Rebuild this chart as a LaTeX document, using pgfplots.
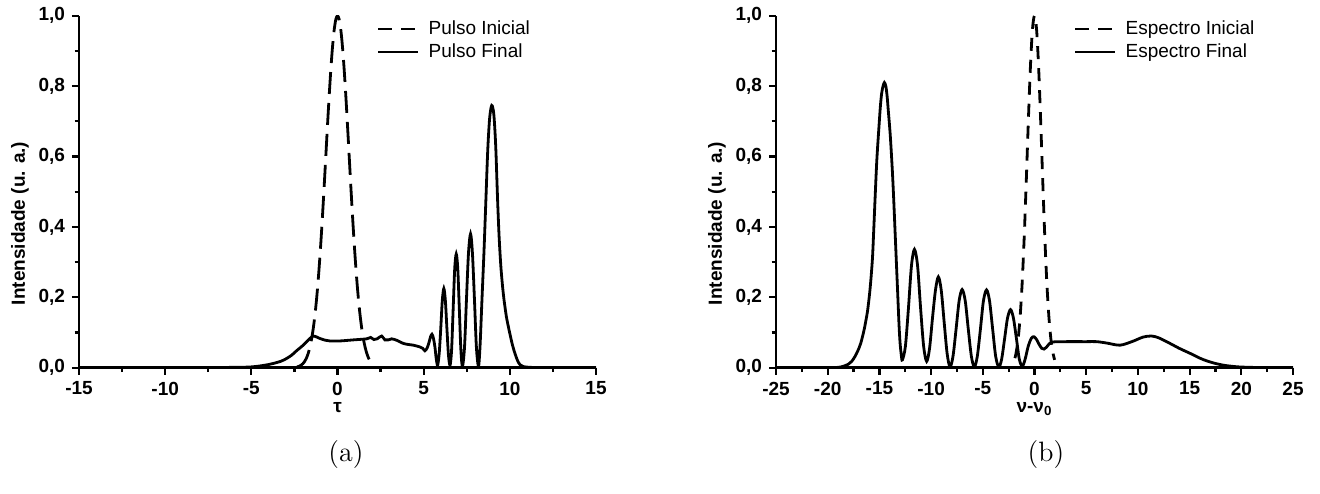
\documentclass[border=0pt]{standalone}
\usepackage{fontspec}
\usepackage{pgfplots}
\pgfplotsset{compat=1.18}
\newfontfamily\arial{Liberation Sans}
\newcommand\tickfont{\arial\bfseries\fontsize{9.5}{11}\selectfont}
\newcommand\legfont{\arial\fontsize{9.5}{11}\selectfont}
\pgfplotsset{
  myaxis/.style={
    scale only axis, width=258.5pt, height=176pt,
    axis x line=bottom, axis y line=left,
    axis line style={-, line width=1.4pt},
    ymin=0, ymax=1,
    ytick={0,0.2,0.4,0.6,0.8,1},
    yticklabels={{0,0},{0,2},{0,4},{0,6},{0,8},{1,0}},
    minor y tick num=1, minor x tick num=1,
    tick align=outside,
    major tick length=3.5pt, minor tick length=2.2pt,
    tick style={black, line width=1.1pt},
    tick label style={font=\tickfont},
    label style={font=\tickfont},
    ylabel={Intensidade (u. a.)},
    ylabel style={at={(axis description cs:-0.114,0.41)}, rotate=0, anchor=center},
    xlabel style={at={(axis description cs:0.5,0)}, anchor=north, yshift=-17pt, inner sep=0pt},
    legend style={draw=none, fill=none, at={(0.576,0.995)}, anchor=north west,
      inner sep=0pt, outer sep=0pt, row sep=0pt, column sep=3pt, font=\legfont,
      nodes={inner sep=1.5pt, text height=6.8pt, text depth=1.7pt, anchor=west}},
    legend cell align=left,
    legend image code/.code={\draw[#1] (0pt,0pt) -- (20pt,0pt);},
  }
}
\begin{document}
\begin{tikzpicture}
\path[use as bounding box] (0,0) rectangle (660pt,246.5pt);
\begin{axis}[myaxis, at={(39.5pt,62.65pt)}, anchor=south west,
  xmin=-15, xmax=15, xtick={-15,-10,-5,0,5,10,15},
  xticklabels={-15,-10,-5,0,5,10,15}, xlabel={τ}]
\addplot[black, line width=1.4pt, smooth, dash pattern=on 11pt off 4.5pt,
  legend image code/.code={\draw[black, line width=1.4pt, dash pattern=on 7pt off 4.5pt] (0pt,0pt) -- (20pt,0pt);}]
coordinates {(-2.35,0.0022) (-2.2,0.0047) (-2.1,0.0076) (-2.0,0.0119) (-1.9,0.0183) (-1.8,0.0276) (-1.7,0.0407) (-1.6,0.0586) (-1.5,0.0827) (-1.4,0.1140) (-1.3,0.1537) (-1.2,0.2028) (-1.1,0.2617) (-1.0,0.3302) (-0.9,0.4076) (-0.8,0.4921) (-0.7,0.5811) (-0.6,0.6711) (-0.5,0.7581) (-0.4,0.8375) (-0.3,0.9051) (-0.2,0.9566) (-0.1,0.9890) (0,1) (0.1,0.9890) (0.2,0.9566) (0.3,0.9051) (0.4,0.8375) (0.5,0.7581) (0.6,0.6711) (0.7,0.5811) (0.8,0.4921) (0.9,0.4076) (1.0,0.3302) (1.1,0.2617) (1.2,0.2028) (1.3,0.1537) (1.4,0.1140) (1.5,0.0827) (1.6,0.0586) (1.7,0.0407) (1.8,0.0276) (1.9,0.0183)};
\addlegendentry{Pulso Inicial}
\addplot[black, line width=1.4pt, smooth]
coordinates {(-15,0) (-10,0) (-8,0.0003) (-6,0.001) (-5.08,0.002) (-4.5,0.005) (-4.0,0.009) (-3.73,0.012) (-3.3,0.018) (-2.96,0.026) (-2.65,0.036) (-2.38,0.048) (-1.99,0.064) (-1.6,0.083) (-1.41,0.09) (-1.2,0.087) (-1.02,0.083) (-0.7,0.078) (-0.44,0.076) (0.14,0.076) (0.91,0.079) (1.69,0.082) (1.92,0.086) (2.11,0.08) (2.3,0.082) (2.56,0.09) (2.75,0.079) (2.95,0.079) (3.14,0.082) (3.43,0.078) (3.82,0.069) (4.1,0.066) (4.4,0.064) (4.78,0.059) (4.95,0.055) (5.07,0.048) (5.2,0.056) (5.3,0.07) (5.4,0.088) (5.48,0.095) (5.56,0.085) (5.65,0.06) (5.73,0.025) (5.81,0.007) (5.9,0.04) (5.99,0.11) (6.08,0.19) (6.17,0.225) (6.26,0.19) (6.35,0.11) (6.44,0.035) (6.53,0.007) (6.62,0.05) (6.71,0.165) (6.80,0.28) (6.89,0.323) (6.98,0.28) (7.07,0.165) (7.16,0.05) (7.25,0.004) (7.37,0.058) (7.48,0.19) (7.60,0.325) (7.72,0.38) (7.83,0.325) (7.95,0.19) (8.06,0.058) (8.18,0.004) (8.27,0.06) (8.38,0.19) (8.5,0.33) (8.61,0.476) (8.72,0.62) (8.83,0.71) (8.95,0.745) (9.07,0.72) (9.18,0.63) (9.29,0.476) (9.38,0.37) (9.48,0.287) (9.58,0.23) (9.67,0.19) (9.8,0.145) (9.9,0.12) (10.0,0.097) (10.15,0.065) (10.3,0.04) (10.45,0.02) (10.6,0.008) (10.8,0.003) (11.2,0.001) (12,0) (15,0)};
\addlegendentry{Pulso Final}
\end{axis}
\begin{axis}[myaxis, at={(388pt,62.65pt)}, anchor=south west,
  xmin=-25, xmax=25, xtick={-25,-20,-15,-10,-5,0,5,10,15,20,25},
  xticklabels={-25,-20,-15,-10,-5,0,5,10,15,20,25}, xlabel={ν-ν\textsubscript{0}}]
\addplot[black, line width=1.4pt, smooth, dash pattern=on 6.5pt off 4.5pt,
  legend image code/.code={\draw[black, line width=1.4pt, dash pattern=on 7pt off 4.5pt] (0pt,0pt) -- (20pt,0pt);}]
coordinates {(-1.9,0.0271) (-1.8,0.0392) (-1.6,0.0773) (-1.4,0.1409) (-1.2,0.2369) (-1.0,0.3679) (-0.8,0.5273) (-0.6,0.6977) (-0.4,0.8521) (-0.2,0.9608) (0,1) (0.2,0.9608) (0.4,0.8521) (0.6,0.6977) (0.8,0.5273) (1.0,0.3679) (1.2,0.2369) (1.4,0.1409) (1.6,0.0773) (1.8,0.0392) (1.95,0.0223)};
\addlegendentry{Espectro Inicial}
\addplot[black, line width=1.4pt, smooth]
coordinates {(-25,0) (-20,0) (-19,0.001) (-18.5,0.004) (-18,0.01) (-17.68,0.018) (-17.4,0.03) (-17.1,0.047) (-16.8,0.07) (-16.5,0.105) (-16.3,0.135) (-16.13,0.165) (-15.9,0.225) (-15.68,0.307) (-15.55,0.39) (-15.42,0.48) (-15.25,0.59) (-15.04,0.686) (-14.9,0.745) (-14.78,0.78) (-14.65,0.8) (-14.52,0.81) (-14.38,0.8) (-14.25,0.77) (-14.14,0.73) (-13.95,0.66) (-13.75,0.56) (-13.62,0.48) (-13.49,0.39) (-13.36,0.30) (-13.23,0.21) (-13.1,0.12) (-13.0,0.07) (-12.88,0.035) (-12.78,0.022) (-12.49,0.06) (-12.19,0.17) (-11.90,0.29) (-11.61,0.336) (-11.31,0.29) (-11.02,0.17) (-10.72,0.06) (-10.43,0.018) (-10.15,0.055) (-9.87,0.14) (-9.58,0.22) (-9.30,0.258) (-9.02,0.22) (-8.74,0.13) (-8.45,0.04) (-8.17,0.002) (-7.88,0.033) (-7.58,0.111) (-7.29,0.19) (-7.0,0.222) (-6.7,0.19) (-6.41,0.111) (-6.11,0.033) (-5.82,0.002) (-5.53,0.033) (-5.23,0.11) (-4.94,0.19) (-4.64,0.221) (-4.35,0.19) (-4.05,0.11) (-3.76,0.033) (-3.46,0.002) (-3.18,0.024) (-2.89,0.083) (-2.61,0.141) (-2.32,0.165) (-2.04,0.141) (-1.75,0.083) (-1.47,0.024) (-1.18,0.004) (-0.9,0.025) (-0.6,0.062) (-0.3,0.084) (-0.05,0.088) (0.2,0.08) (0.45,0.066) (0.7,0.055) (0.92,0.053) (1.15,0.058) (1.4,0.067) (1.76,0.073) (3,0.074) (5,0.074) (6,0.074) (7,0.07) (8.27,0.064) (9.5,0.075) (10.5,0.087) (11.3,0.09) (12,0.085) (13.1,0.069) (14,0.055) (15.1,0.04) (16,0.027) (16.7,0.019) (17.5,0.012) (18.3,0.007) (19.1,0.004) (19.9,0.002) (21,0.001) (22.2,0) (25,0)};
\addlegendentry{Espectro Final}
\end{axis}
\node[font=\fontsize{14}{16}\selectfont] at (173pt,19pt) {(a)};
\node[font=\fontsize{14}{16}\selectfont] at (523pt,19pt) {(b)};
\end{tikzpicture}
\end{document}
